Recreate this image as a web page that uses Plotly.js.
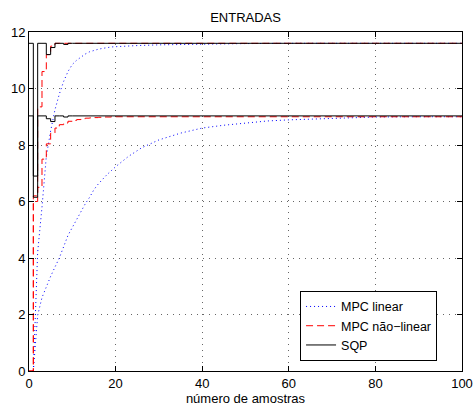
<!DOCTYPE html>
<html>
<head>
<meta charset="utf-8">
<script src="https://cdn.plot.ly/plotly-3.0.1.min.js"></script>
<style>html,body{margin:0;padding:0;background:#fff;}#chart{width:474px;height:406px;}</style>
</head>
<body>
<div id="chart"></div>
<script>
// MPC linear (dotted line), channel 1 (-> 11.6) and channel 2 (-> 9.0)
const linK1 = [1, 2, 3, 4, 5, 6, 7, 8, 9, 10, 11, 12, 13, 14, 15, 16, 17, 18, 19, 20, 22, 25, 30, 35, 40, 45, 50, 60, 80, 100];
const linU1 = [0, 4.2, 5.8, 7.6, 8.5, 9.25, 9.8, 10.25, 10.6, 10.85, 11.0, 11.12, 11.22, 11.3, 11.35, 11.39, 11.42, 11.45, 11.47, 11.48, 11.5, 11.52, 11.545, 11.56, 11.575, 11.585, 11.59, 11.6, 11.6, 11.6];
const linK2 = [1, 2, 3, 4, 5, 6, 7, 8, 9, 10, 11, 12, 13, 14, 15, 16, 17, 18, 20, 23, 26, 30, 35, 40, 45, 50, 55, 60, 65, 70, 75, 80, 90, 100];
const linU2 = [0, 1.97, 2.6, 3.0, 3.35, 3.68, 4.0, 4.4, 4.8, 5.08, 5.37, 5.65, 5.92, 6.15, 6.42, 6.62, 6.8, 6.95, 7.23, 7.6, 7.9, 8.18, 8.42, 8.6, 8.7, 8.78, 8.85, 8.89, 8.92, 8.95, 8.97, 8.99, 9.0, 9.0];

// MPC não-linear (dashed stairs)
const nlK1 = [0, 1, 2, 3, 4, 5, 6, 100];
const nlU1 = [0, 6.2, 9.35, 10.6, 11.2, 11.5, 11.6, 11.6];
const nlK2 = [0, 1, 2, 3, 4, 5, 6, 7, 8, 9, 10, 11, 12, 13, 14, 15, 16, 17, 18, 19, 20, 100];
const nlU2 = [0, 6.0, 6.5, 7.5, 8.04, 8.42, 8.6, 8.72, 8.78, 8.84, 8.87, 8.9, 8.93, 8.95, 8.96, 8.97, 8.98, 8.99, 8.99, 9.0, 9.0, 9.0];

// SQP (solid stairs)
const sqpK1 = [0, 1, 2, 3, 4, 5, 6, 7, 8, 9, 10, 100];
const sqpU1 = [11.6, 6.9, 11.6, 11.6, 11.2, 11.45, 11.6, 11.6, 11.56, 11.6, 11.6, 11.6];
const sqpK2 = [0, 1, 2, 3, 4, 5, 6, 7, 8, 9, 10, 100];
const sqpU2 = [9.03, 6.15, 9.03, 9.03, 8.93, 8.83, 9.03, 9.03, 8.99, 9.03, 9.03, 9.03];

const names = ['MPC linear', 'MPC não\u2212linear', 'SQP'];
const xTicks = [0, 20, 40, 60, 80, 100];
const yTicks = [0, 2, 4, 6, 8, 10, 12];

const FONT = 'Liberation Sans, Arial, Helvetica, sans-serif';
const linStyle = {color: '#0000ff', width: 1, dash: '1px,3px'};
const nlStyle = {color: '#ff0000', width: 1, dash: '7px,4px', shape: 'hv'};
const sqpStyle = {color: '#000000', width: 1, shape: 'hv'};

const traces = [
  {x: linK1, y: linU1, mode: 'lines', line: linStyle, name: names[0], legendgroup: 'a', showlegend: true},
  {x: linK2, y: linU2, mode: 'lines', line: linStyle, name: names[0], legendgroup: 'a', showlegend: false},
  {x: nlK1, y: nlU1, mode: 'lines', line: nlStyle, name: names[1], legendgroup: 'b', showlegend: true},
  {x: nlK2, y: nlU2, mode: 'lines', line: nlStyle, name: names[1], legendgroup: 'b', showlegend: false},
  {x: sqpK1, y: sqpU1, mode: 'lines', line: sqpStyle, name: names[2], legendgroup: 'c', showlegend: true},
  {x: sqpK2, y: sqpU2, mode: 'lines', line: sqpStyle, name: names[2], legendgroup: 'c', showlegend: false}
];

const axisCommon = {
  showline: true, linecolor: '#000', linewidth: 1, mirror: 'ticks',
  ticks: 'inside', ticklen: 5, tickcolor: '#000', tickwidth: 1,
  showgrid: true, gridcolor: '#666', griddash: '1px,5px', gridwidth: 1,
  zeroline: false, automargin: false,
  tickfont: {family: FONT, size: 13, color: '#000'}
};

const layout = {
  width: 474, height: 406,
  margin: {l: 29, r: 12, t: 32, b: 35},
  paper_bgcolor: '#fff', plot_bgcolor: '#fff',
  font: {family: FONT, size: 13, color: '#000'},
  title: {text: 'ENTRADAS', font: {family: FONT, size: 13, color: '#000'}, x: 0.518, xanchor: 'center', y: 0.958, yanchor: 'middle'},
  xaxis: Object.assign({}, axisCommon, {range: [0, 100], tickvals: xTicks, ticktext: xTicks.map(String),
    title: {text: 'número de amostras', font: {family: FONT, size: 13, color: '#000'}, standoff: 4}}),
  yaxis: Object.assign({}, axisCommon, {range: [0, 12], tickvals: yTicks, ticktext: yTicks.map(String)}),
  showlegend: true,
  legend: {x: 0.626, xanchor: 'left', y: 0.03, yanchor: 'bottom', bgcolor: '#fff', bordercolor: '#000', borderwidth: 1,
    font: {family: FONT, size: 12.5, color: '#000'}, tracegroupgap: 0, itemwidth: 30}
};

Plotly.newPlot('chart', traces, layout, {displayModeBar: false, staticPlot: true});
</script>
</body>
</html>
